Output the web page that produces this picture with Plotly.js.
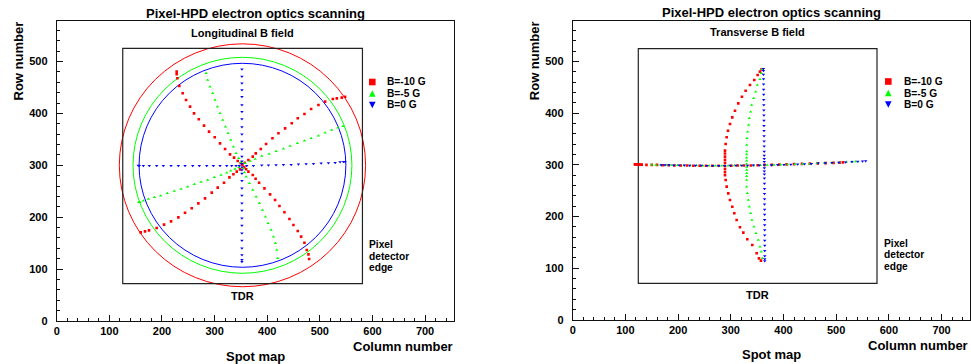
<!DOCTYPE html>
<html><head><meta charset="utf-8">
<script src="https://cdn.plot.ly/plotly-3.0.1.min.js"></script>
<style>html,body{margin:0;padding:0;background:#fff}#chart{width:971px;height:364px}</style>
</head><body><div id="chart"></div>
<script>
const W = 971, H = 364;

// ---- Legend / series definitions ----
const seriesLabels = ['B=-10 G', 'B=-5 G', 'B=0 G'];
const seriesColors = ['#ff0000', '#00ff00', '#0000ff'];
const seriesSymbols = ['square', 'triangle-up', 'triangle-down'];

// ---- Longitudinal B field: spot positions [column, row] ----
const longRed = [
  [228,480.4],[228,475.3],[229.3,467.6],[233,452.8],[239.4,438.7],[245.8,425.8],[253.4,413],[261,400.1],[270,388.6],[280,376.4],[289.5,364.8],[300.3,353.9],[310.4,342.3],[320,331.4],[329.4,321.1],[337,314.7],[344,308.3],[349.7,303.8],
  [353,300.5],[356.5,296.5],
  [360,292.5],[364.3,287.7],[372.6,281.3],[378,274],[384.6,266.5],[394.8,255.6],[405.5,244],[415,233.1],[423.3,221.6],[432.8,209.4],[442.3,196.5],[449.9,185],[458.1,173.4],[464.5,162.5],[470.8,150.9],[475.2,136.8],[478.4,128.4],[479.7,119.4],
  [159.6,170.8],[167.8,172.7],[175.4,174.7],[190,179.2],[204,185.6],[217.3,192],[231.2,199.7],[243.9,208.7],[256.6,217.1],[269.2,226.7],[281.9,236.3],[294.6,247.3],[306,256.9],[318,266.5],[328.2,276.8],[335.8,282.6],[342.1,287.7],[348.4,292.2],
  [357.5,305],[364.3,310.2],[372.6,316.6],[378.3,323],[387.8,331.4],[397.9,341],[410,352],[421.4,361.6],[434.1,371.2],[446.7,380.9],[458.1,390.5],[470.8,398.8],[483.5,408.5],[497.4,416.2],[510.1,422.6],[524.7,427.7],[532.3,429],[541.8,430.3],[548,432]
];
const longGreen = [
  [283.8,477.2],[287,464.4],[291.4,451.5],[296.5,438.7],[300.9,425.8],[305.4,413],[310.4,400.1],[315.5,387.3],[320.6,374.4],[325.6,361.6],[330.7,348.7],[335.8,335.9],[340.8,323],[345.9,313.4],[350,306],
  [355,294],[357,286],[359.9,278.1],[366.2,265.2],[372.6,252.4],[378.9,239.5],[385.3,226.7],[391,213.9],[396.7,201],[401.7,188.2],[407.4,175.3],[411.9,162.5],[415.7,149.6],[418.2,136.8],[420.1,120.7],
  [156,229],[158.3,228.6],[164.7,231.8],[174.2,235.1],[185.6,238.3],[197.6,241.5],[210.3,246],[223.6,250.5],[236.3,254.3],[249,258.8],[261.6,263.3],[274.3,267.8],[287,271.7],[299.6,276.8],[312.3,281.3],[323.1,285.8],[330.7,289.6],[338.9,292.9],[346,296],
  [358,303.8],[367.5,308.3],[377,312.1],[389.7,317.9],[403.6,321.8],[416.9,326.9],[430.9,332],[443.6,337.2],[457.5,342.3],[470.8,347.5],[483.5,352],[497.4,357.1],[510.1,362.9],[522.8,368],[534.2,372.5],[544,375]
];
const longBlue = [
  [155,299.5],[157,299.3],[164.7,299.3],[176,299.3],[190,299.3],[202.7,299.3],[217.3,299.3],[231.2,299.3],[243.9,299.3],[258.5,299.3],[271.1,299.3],[285.1,299.3],[297.7,299.3],[310.4,299.3],[323.1,299.3],[332.6,299.3],[340.8,299.3],[347,299.3],
  [361.2,299.3],[373.8,299.3],[389.7,299.9],[402.4,299.9],[416.9,300.6],[430.9,301.2],[445.5,301.2],[459.4,301.9],[474,302.5],[487.9,303.1],[502.5,303.8],[516.4,304.4],[529.1,305.1],[538.6,306.3],[545,307],[548,307],
  [352,485],[352,471],[352,458],[352,445],[352,432],[352,416],[352,403],[352,389],[352,374],[352,360],[352,346],[352,331],[352,317],[352,308],[352,303],[352,296],[352,291],[352,284],[352,270],[352,256],[352,242],[352,227],[352,213],[352,198],[352,184],[352,169],[352,155],[352,140],[352,127],[352,118],[352,114]
];

// ---- Transverse B field: spot positions [column, row] ----
const transRed = [
  [358.6,484.9],[355.4,480.4],[351,474],[344.6,464.2],[336.4,454.6],[328.2,443.6],[321.2,432],[314.3,419.1],[308,404.9],[302.9,392],[298.5,379.1],[294.7,366.2],[292.2,353.4],[290.3,340.5],
  [289,327.6],[289,322],[289,316],[289,310],[289,304],[289,298],[289,292],[289,286],[289,280],
  [290.3,270.8],[292.2,258],[295.3,245],[298.5,232],[302.9,219.2],[306.7,206.4],[311.1,193.5],[317.4,179.3],[323.8,169],[331.4,156.1],[340.8,145.1],[349.1,129],[353.5,119.3],[357.3,114.8],
  [118,301],[120,301],[122,301],[125,301],[128,300.5],[131,300.5],[140,300],[150,300],[160,300],[171,299.5],[182,299.5],[193,299],[205,299],[217,299],[229,298.5],[241,298.5],[253,298.5],[265,298.5],[277,298.5],
  [301,298.5],[313,299],[325,299],[338,299],[351,299.5],[364,300],[378,300],[392,300.5],[406,301],[420,301.5],[435,302],[450,302.5],[465,303],[480,303.5],[495,304],[507,304.5],[513,305]
];
const transGreen = [
  [359.8,484.9],[358,477.1],[355.4,465.5],[350.3,454.6],[347.2,441.7],[343.4,428.8],[339.6,415.9],[337.7,403],[335.2,390.1],[333.9,377.2],[332,364.3],[330.7,351.4],[330.1,338.5],
  [330.1,326],[330.1,320],[330.1,314],[330.1,308],[330.1,302],[330.1,296],[330.1,290],[330.1,284],[330.1,278],[330.1,271],
  [330.1,258],[331.4,245],[333.3,232.1],[335.2,219.2],[337.7,206.4],[340.2,193.5],[344,180.6],[347.8,167.7],[352.2,154.8],[355.4,141.9],[358,132.2],[359.8,119.3],
  [150,300.5],[158,300],[167,300],[177,300],[188,299.5],[199,299.5],[211,299],[223,299],[235,299],[247,298.5],[259,298.5],[271,298.5],[283,298.5],[295,298.5],[307,299],[319,299],
  [343,299],[356,299.5],[369,300],[382,300],[395,300.5],[408,301],[422,301.5],[436,302],[450,302.5],[464,303],[478,303.5],[492,304],[506,304.5],[519,305.5],[530,306],[537,306.5]
];
const transBlue = [
  [362,486],[362,482],[362,475],[362.2,466],[362.3,456],[362.4,446],[362.5,436],[362.6,426],[362.7,416],[362.8,406],[362.9,396],[363,386],[363,376],[363.1,366],[363.2,356],[363.3,346],[363.4,336],[363.5,326],[363.5,318],[363.5,312],[363.6,306],[363.6,300],[363.7,294],[363.7,288],[363.8,282],[363.8,274],[363.9,264],[364,254],[364,244],[364.1,234],[364.1,224],[364.2,214],[364.2,204],[364.3,194],[364.3,184],[364.4,174],[364.4,164],[364.5,154],[364.5,144],[364.5,134],[364.5,124],[364.5,118],[364.5,114],
  [168,300],[175,300],[183,300],[192,299.5],[202,299.5],[212,299.5],[222,299],[233,299],[244,299],[255,298.5],[266,298.5],[277,298.5],[288,298.5],[299,299],[310,299],[321,299],[332,299],[343,299.5],[354,299.5],
  [377,300],[389,300.5],[401,300.5],[414,301],[427,301.5],[440,302],[453,302.5],[466,303],[479,303.5],[492,304],[505,304.5],[518,305],[530,306],[541,306.5],[550,307],[556,307.5]
];

// ---- Reference geometry (data units) ----
const circleCenterLong = [353, 300];
const circleRadiiLong = [234, 208, 196.5];
const detectorBoxLong = [125.5, 581, 72, 525.4];   // x0, x1, y0, y1
const detectorBoxTrans = [124.5, 577.5, 71, 525];
const axisRangeX = [0, 755];
const axisRangeY = [0, 578];
const axisRangeX2 = [0, 754];
const axisRangeY2 = [0, 579];

// ---- Texts ----
const mainTitle = 'Pixel-HPD electron optics scanning';
const subTitles = ['Longitudinal B field', 'Transverse B field'];
const boxLabel = 'TDR';
const edgeLabel = ['Pixel', 'detector', 'edge'];
const xTitle = 'Column number';
const yTitle = 'Row number';
const mapTitle = 'Spot map';

// ---- helpers (pixel -> paper) ----
const PX = p => p / W;
const PY = p => 1 - p / H;
const FONT = 'Liberation Sans, Arial, Helvetica, sans-serif';

const longSets = [longRed, longGreen, longBlue];
const transSets = [transRed, transGreen, transBlue];
const markerSizes = [2.6, 3, 3];
const traces = [];
[[longSets, 'x', 'y'], [transSets, 'x2', 'y2']].forEach(([sets, xa, ya]) => {
  sets.forEach((pts, i) => {
    traces.push({
      type: 'scatter', mode: 'markers', name: seriesLabels[i],
      x: pts.map(p => p[0]), y: pts.map(p => p[1]),
      xaxis: xa, yaxis: ya, showlegend: false, hoverinfo: 'skip',
      marker: { symbol: seriesSymbols[i], size: markerSizes[i], color: seriesColors[i], line: { width: 0 } }
    });
  });
});

function axis(domain, range, isX) {
  return {
    domain: domain, range: range, autorange: false,
    showgrid: false, zeroline: false,
    showline: true, mirror: true, linecolor: '#111', linewidth: 1,
    ticks: 'inside', ticklen: 6, tickwidth: 1, tickcolor: '#111',
    dtick: 100, tick0: 0,
    minor: { dtick: 20, tick0: 0, ticks: 'inside', ticklen: 3, tickwidth: 1, tickcolor: '#111', showgrid: false },
    tickfont: { family: FONT, size: 11, color: '#000', weight: 'bold' },
    ticklabelstandoff: isX ? 0 : 6,
    fixedrange: true
  };
}

const shapes = [];
circleRadiiLong.forEach((r, i) => {
  shapes.push({ type: 'circle', xref: 'x', yref: 'y', layer: 'below',
    x0: circleCenterLong[0] - r, x1: circleCenterLong[0] + r,
    y0: circleCenterLong[1] - r, y1: circleCenterLong[1] + r,
    line: { color: seriesColors[i], width: 1 } });
});
[[detectorBoxLong, 'x', 'y'], [detectorBoxTrans, 'x2', 'y2']].forEach(([b, xr, yr]) => {
  shapes.push({ type: 'rect', xref: xr, yref: yr, layer: 'below',
    x0: b[0], x1: b[1], y0: b[2], y1: b[3], line: { color: '#222', width: 1.2 } });
});

// legend glyphs (paper positions)
function legendGlyphs(cx, ys) {
  const s = 3.3;
  const g = [];
  g.push({ type: 'rect', xref: 'paper', yref: 'paper', x0: PX(cx - s), x1: PX(cx + s), y0: PY(ys[0] + s), y1: PY(ys[0] - s),
    fillcolor: seriesColors[0], line: { width: 0 } });
  g.push({ type: 'path', xref: 'paper', yref: 'paper',
    path: `M ${PX(cx - s)} ${PY(ys[1] + s)} L ${PX(cx + s)} ${PY(ys[1] + s)} L ${PX(cx)} ${PY(ys[1] - s)} Z`,
    fillcolor: seriesColors[1], line: { width: 0 } });
  g.push({ type: 'path', xref: 'paper', yref: 'paper',
    path: `M ${PX(cx - s)} ${PY(ys[2] - s)} L ${PX(cx + s)} ${PY(ys[2] - s)} L ${PX(cx)} ${PY(ys[2] + s)} Z`,
    fillcolor: seriesColors[2], line: { width: 0 } });
  return g;
}
const legYLeft = [82, 93.5, 105];
const legYRight = [81.5, 93, 104.5];
shapes.push(...legendGlyphs(372.3, legYLeft));
shapes.push(...legendGlyphs(888.3, legYRight));

const annotations = [];
function txt(text, x, y, size, xanchor, extra) {
  annotations.push(Object.assign({
    text: text, xref: 'paper', yref: 'paper', x: PX(x), y: PY(y),
    xanchor: xanchor || 'center', yanchor: 'middle', showarrow: false,
    font: { family: FONT, size: size, color: '#000', weight: 'bold' }, borderpad: 0
  }, extra || {}));
}
txt(mainTitle, 255, 13.3, 13);
txt(mainTitle, 771.5, 12.7, 13);
txt(subTitles[0], 242.4, 33.3, 11);
txt(subTitles[1], 757.7, 32.3, 11);
txt(boxLabel, 242.5, 296, 11);
txt(boxLabel, 757.7, 295.3, 11);
edgeLabel.forEach((t, i) => {
  txt(t, 367.7, [244.5, 256, 267.5][i], 10.2, 'left');
  txt(t, 882.7, [243.5, 255, 266.5][i], 10.2, 'left');
});
seriesLabels.forEach((t, i) => {
  txt(t, 386, legYLeft[i], 10.2, 'left');
  txt(t, 902.7, legYRight[i], 10.2, 'left');
});
txt(xTitle, 454, 346.5, 13, 'right');
txt(xTitle, 969, 345, 13, 'right');
txt(mapTitle, 255, 356, 13);
txt(mapTitle, 771, 354.5, 13);
txt(yTitle, 18, 21, 13, 'center', { yanchor: 'top', textangle: -90 });
txt(yTitle, 534, 20.7, 13, 'center', { yanchor: 'top', textangle: -90 });

const layout = {
  width: W, height: H,
  margin: { l: 0, r: 0, t: 0, b: 0, pad: 0 },
  paper_bgcolor: '#fff', plot_bgcolor: 'rgba(0,0,0,0)',
  showlegend: false,
  xaxis: Object.assign(axis([PX(56.7), PX(454)], axisRangeX, true), { anchor: 'y' }),
  yaxis: Object.assign(axis([PY(321), PY(21)], axisRangeY, false), { anchor: 'x' }),
  xaxis2: Object.assign(axis([PX(572.7), PX(970)], axisRangeX2, true), { anchor: 'y2' }),
  yaxis2: Object.assign(axis([PY(320), PY(20.7)], axisRangeY2, false), { anchor: 'x2' }),
  shapes: shapes,
  annotations: annotations,
  font: { family: FONT, color: '#000' }
};

Plotly.newPlot('chart', traces, layout, { staticPlot: true, displayModeBar: false });
</script>
</body></html>
